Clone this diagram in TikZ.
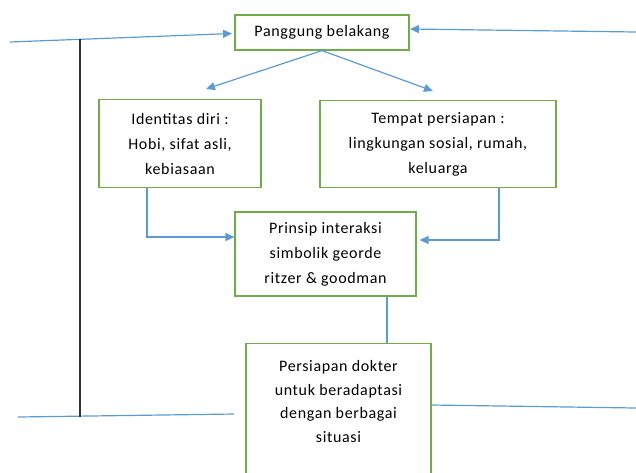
\documentclass[tikz,border=0pt]{standalone}
\usepackage{fontspec}
\setmainfont{Carlito}[LetterSpace=4]
\usetikzlibrary{arrows.meta}
\definecolor{boxgreen}{RGB}{112,173,71}
\definecolor{lineblue}{RGB}{91,155,213}
\tikzset{
  box/.style={draw=boxgreen, line width=1.2pt, fill=white, align=center, inner sep=0pt,
    font=\fontsize{16}{25}\selectfont},
  conn/.style={draw=lineblue, line width=1.2pt},
  arr/.style={conn, -{Triangle[length=9pt,width=8pt]}},
}
\begin{document}
\begin{tikzpicture}[x=1pt,y=-1pt]
\useasboundingbox (0,0) rectangle (636,472);
\clip (0,0) rectangle (636,472);
% boxes
\node[box, minimum width=174pt, minimum height=35pt] (pang) at (322,32.5) {Panggung belakang};
\node[box, minimum width=162pt, minimum height=88pt] (ident) at (180,143.5) {Identitas diri :\\Hobi, sifat asli,\\kebiasaan};
\node[box, minimum width=236pt, minimum height=87pt] (temp) at (438,144) {Tempat persiapan :\\lingkungan sosial, rumah,\\keluarga};
\node[box, minimum width=181pt, minimum height=84pt] (prin) at (325.5,254) {Prinsip interaksi\\simbolik georde\\ritzer \& goodman};
\node[box, anchor=north] (pers) at (338.5,343) {\parbox[c][170pt][t]{185pt}{\centering\fontsize{16}{23.5}\selectfont\vspace*{17pt}Persiapan dokter\\untuk beradaptasi\\dengan berbagai\\situasi}};
% free ends
\coordinate (tl) at (10,42);
\coordinate (tr) at (636,32);
\coordinate (bl) at (18,417);
\coordinate (blend) at (234,414);
\coordinate (br) at (636,408);
\coordinate (vtop) at (80,39);
\coordinate (vbot) at (80,416.5);
\coordinate (aid) at (206,89);
\coordinate (ate) at (433,91);
% connectors
\draw[arr] (tl) -- (232,33.5);
\draw[arr] (tr) -- (410,29);
\draw[arr] (pang.south) -- (aid);
\draw[arr] (pang.south) -- (ate);
\draw[arr] (ident.south -| 147,0) -- (147,237) -- (prin.west |- 0,237);
\draw[arr] (temp.south -| 499,0) -- (499,240) -- ([xshift=3pt]prin.east |- 0,240);
\draw[conn] (prin.south -| 387,0) -- (pers.north -| 387,0);
\draw[conn] (bl) -- (blend);
\draw[conn] (pers.east |- 0,405) -- (br);
\draw[black!80, line width=1.1pt] (vtop) -- (vbot);
\end{tikzpicture}
\end{document}
